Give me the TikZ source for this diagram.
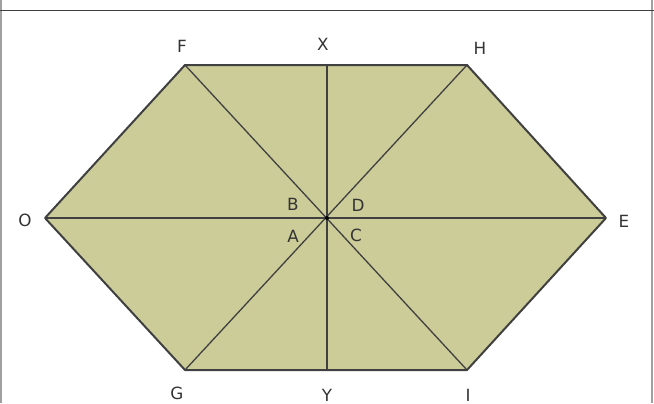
\documentclass[tikz,border=0pt]{standalone}
\usepackage{fontspec}
\setmainfont{DejaVu Sans}
\usepackage{tikz}
\usetikzlibrary{positioning}

\definecolor{hexfill}{RGB}{204,204,153}
\definecolor{edgegray}{RGB}{64,64,64}
\definecolor{framegray}{RGB}{160,160,160}

\begin{document}
\begin{tikzpicture}[
        x=0.5pt, y=-0.5pt,
        outline/.style={draw=edgegray, line width=1pt, line join=round, fill=hexfill},
        inner/.style={draw=edgegray, line width=0.65pt},
        lbl/.style={font=\fontsize{8.4}{10}\selectfont, text=black!80, inner sep=0pt}
    ]
    \useasboundingbox (0,0) rectangle (654,403);

    % frame
    \draw[framegray, line width=1pt] (1,0) -- (1,403);
    \draw[framegray, line width=1pt] (652,0) -- (652,403);
    \draw[edgegray, line width=0.5pt] (0,10) -- (654,10);

    % vertices
    \coordinate (O) at (45,218);
    \coordinate (F) at (185,65);
    \coordinate (H) at (467,65);
    \coordinate (E) at (606,218);
    \coordinate (I) at (467,370);
    \coordinate (G) at (185,370);
    \coordinate (X) at (327,65);
    \coordinate (Y) at (327,370);
    \coordinate (M) at (327,218);

    \draw[outline] (O) -- (F) -- (H) -- (E) -- (I) -- (G) -- cycle;

    \draw[inner] (F) -- (I);
    \draw[inner] (H) -- (G);
    \draw[inner] (X) -- (Y);
    \draw[inner] (O) -- (E);
    \draw[edgegray, line width=0.9pt] (303,218) -- (347,218);
    \fill[black] (M) circle (2);

    % labels
    \node[lbl] (lF) at (182,46) {F};
    \node[lbl] (lX) at (323,44) {X};
    \node[lbl] (lH) at (480,48) {H};
    \node[lbl] (lO) at (25,220) {O};
    \node[lbl] (lE) at (624,221) {E};
    \node[lbl] (lG) at (177,393) {G};
    \node[lbl] (lY) at (327,395) {Y};
    \node[lbl] (lI) at (468,395) {I};
    \node[lbl] (lB) at (293,204) {B};
    \node[lbl] (lD) at (358,205) {D};
    \node[lbl] (lA) at (293,236) {A};
    \node[lbl] (lC) at (356,235) {C};

\end{tikzpicture}
\end{document}
